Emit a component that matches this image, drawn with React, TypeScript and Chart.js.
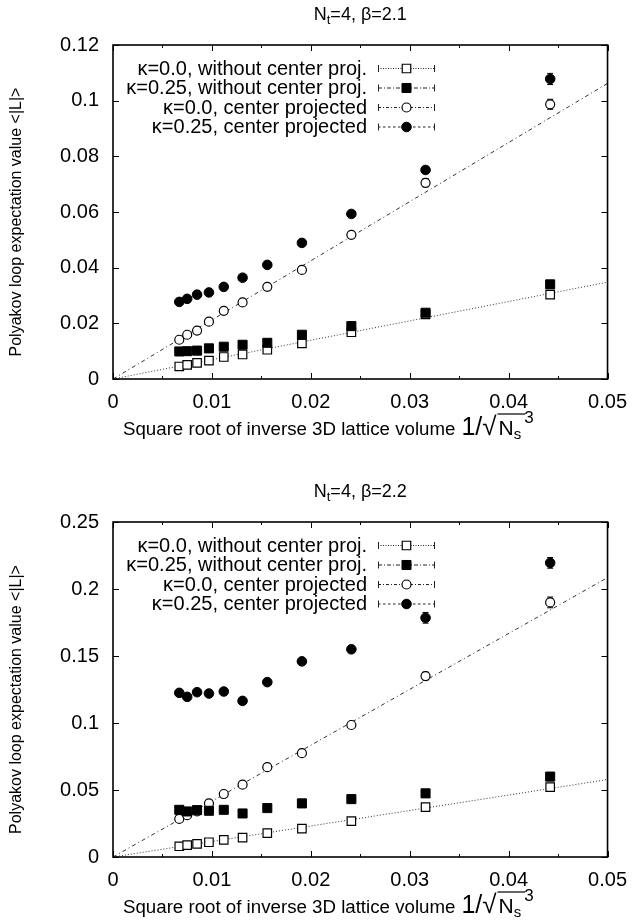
import React, { useEffect, useRef } from "react";
import { Chart, registerables } from "chart.js";

Chart.register(...registerables);

const FONT = "'Liberation Sans', Arial, Helvetica, sans-serif";

// x positions: 1/sqrt(Ns^3) for Ns = 28,26,24,22,20,18,16,14,12,10,8
const xValues = [0.0067, 0.0075, 0.0085, 0.0097, 0.0112, 0.0131, 0.0156, 0.0191, 0.0241, 0.0316, 0.0442];

const seriesLabels = [
  "κ=0.0, without center proj.",
  "κ=0.25, without center proj.",
  "κ=0.0, center projected",
  "κ=0.25, center projected",
];

const xAxisLabel = "Square root of inverse 3D lattice volume";
const yAxisLabel = "Polyakov loop expectation value <|L|>";

// ---- Panel 1: Nt=4, beta=2.1 ----
const b21_k00_noProj = [0.0045, 0.0051, 0.0058, 0.0066, 0.0079, 0.0088, 0.0105, 0.0128, 0.0168, 0.0232, 0.0303];
const b21_k025_noProj = [0.0099, 0.0100, 0.0102, 0.0110, 0.0116, 0.0123, 0.0130, 0.0159, 0.0190, 0.0238, 0.0340];
const b21_k00_proj = [0.0141, 0.0159, 0.0174, 0.0206, 0.0245, 0.0275, 0.0331, 0.0392, 0.0518, 0.0705, 0.0987];
const b21_k025_proj = [0.0277, 0.0288, 0.0303, 0.0311, 0.0331, 0.0364, 0.0410, 0.0489, 0.0593, 0.0751, 0.1078];
const b21_err_k00_noProj = [0.0003, 0.0003, 0.0003, 0.0003, 0.0003, 0.0003, 0.0003, 0.0003, 0.0004, 0.0005, 0.0006];
const b21_err_k025_noProj = [0.0003, 0.0003, 0.0003, 0.0003, 0.0003, 0.0003, 0.0003, 0.0004, 0.0005, 0.0006, 0.0008];
const b21_err_k00_proj = [0.0004, 0.0004, 0.0004, 0.0004, 0.0005, 0.0005, 0.0006, 0.0007, 0.0008, 0.0015, 0.0018];
const b21_err_k025_proj = [0.0004, 0.0004, 0.0004, 0.0004, 0.0005, 0.0005, 0.0006, 0.0007, 0.0008, 0.0012, 0.0020];
const fitX = [0, 0.05];
const b21_fit_noProj = [0, 0.0348];
const b21_fit_proj = [0, 0.1062];

// ---- Panel 2: Nt=4, beta=2.2 ----
const b22_k00_noProj = [0.0080, 0.0088, 0.0098, 0.0110, 0.0128, 0.0145, 0.0178, 0.0212, 0.0268, 0.0372, 0.0522];
const b22_k025_noProj = [0.0352, 0.0340, 0.0350, 0.0345, 0.0352, 0.0325, 0.0365, 0.0400, 0.0432, 0.0475, 0.0600];
const b22_k00_proj = [0.0284, 0.0312, 0.0340, 0.0400, 0.0470, 0.0540, 0.0670, 0.0775, 0.0985, 0.1350, 0.1900];
const b22_k025_proj = [0.1225, 0.1195, 0.1230, 0.1220, 0.1235, 0.1165, 0.1305, 0.1460, 0.1550, 0.1785, 0.2195];
const b22_err_k00_noProj = [0.0006, 0.0006, 0.0006, 0.0006, 0.0006, 0.0006, 0.0007, 0.0008, 0.0009, 0.0012, 0.0015];
const b22_err_k025_noProj = [0.0008, 0.0008, 0.0008, 0.0008, 0.0008, 0.0008, 0.0009, 0.0010, 0.0012, 0.0015, 0.0020];
const b22_err_k00_proj = [0.0008, 0.0008, 0.0008, 0.0009, 0.0010, 0.0010, 0.0012, 0.0014, 0.0020, 0.0030, 0.0040];
const b22_err_k025_proj = [0.0010, 0.0010, 0.0010, 0.0010, 0.0012, 0.0012, 0.0015, 0.0018, 0.0025, 0.0040, 0.0040];
const b22_fit_noProj = [0, 0.0578];
const b22_fit_proj = [0, 0.2085];

const xMax = 0.05;
const xStep = 0.01;

type Panel = {
  title: string;
  yMax: number;
  yStep: number;
  padTop: number;
  xAxisHeight: number;
  values: number[][];
  errors: number[][];
  fitNoProj: number[];
  fitProj: number[];
};

const panels: Panel[] = [
  {
    title: "2.1",
    yMax: 0.12,
    yStep: 0.02,
    padTop: 45,
    xAxisHeight: 82,
    values: [b21_k00_noProj, b21_k025_noProj, b21_k00_proj, b21_k025_proj],
    errors: [b21_err_k00_noProj, b21_err_k025_noProj, b21_err_k00_proj, b21_err_k025_proj],
    fitNoProj: b21_fit_noProj,
    fitProj: b21_fit_proj,
  },
  {
    title: "2.2",
    yMax: 0.25,
    yStep: 0.05,
    padTop: 61,
    xAxisHeight: 65,
    values: [b22_k00_noProj, b22_k025_noProj, b22_k00_proj, b22_k025_proj],
    errors: [b22_err_k00_noProj, b22_err_k025_noProj, b22_err_k00_proj, b22_err_k025_proj],
    fitNoProj: b22_fit_noProj,
    fitProj: b22_fit_proj,
  },
];

const markerStyles = [
  { pointStyle: "rect", pointRadius: 6, bg: "#ffffff", borderWidth: 1.2, order: 4 },
  { pointStyle: "rect", pointRadius: 6.4, bg: "#000000", borderWidth: 1, order: 3 },
  { pointStyle: "circle", pointRadius: 4.5, bg: "#ffffff", borderWidth: 1.2, order: 5 },
  { pointStyle: "circle", pointRadius: 4.8, bg: "#000000", borderWidth: 1, order: 1 },
];
const legendDashes = [[1, 1.5], [4, 2, 1, 2], [3, 2, 1, 2], [2.5, 2.5]];

type Part = { text: string; size: number; dy?: number; w?: number; gap?: number };

function drawRich(ctx: CanvasRenderingContext2D, parts: Part[], x: number, y: number, center: boolean) {
  let total = 0;
  parts.forEach((p) => {
    ctx.font = `${p.size}px ${FONT}`;
    p.w = ctx.measureText(p.text).width;
    total += p.w + (p.gap || 0);
  });
  let cx = center ? x - total / 2 : x;
  const positions: number[] = [];
  parts.forEach((p) => {
    ctx.font = `${p.size}px ${FONT}`;
    cx += p.gap || 0;
    positions.push(cx);
    ctx.fillText(p.text, cx, y + (p.dy || 0));
    cx += p.w || 0;
  });
  positions.push(cx);
  return positions;
}

const textPlugin = {
  id: "gpText",
  afterDraw(chart: any, _args: any, opts: any) {
    const { ctx, chartArea: a } = chart;
    ctx.save();
    ctx.fillStyle = "#000";
    ctx.textBaseline = "alphabetic";
    ctx.textAlign = "left";
    // panel title
    drawRich(
      ctx,
      [
        { text: "N", size: 18 },
        { text: "t", size: 13, dy: 4 },
        { text: "=4, β=" + opts.beta, size: 18 },
      ],
      (a.left + a.right) / 2,
      a.top - 25,
      true
    );
    // x axis title
    const base = a.bottom + 56;
    const parts: Part[] = [
      { text: xAxisLabel, size: 18.7 },
      { text: "1/", size: 25, gap: 6 },
      { text: "√", size: 26 },
      { text: "N", size: 21, gap: 2 },
      { text: "s", size: 15, dy: 4 },
      { text: "3", size: 17, dy: -12, gap: 3 },
    ];
    const pos = drawRich(ctx, parts, a.left + 10, base, false);
    ctx.strokeStyle = "#000";
    ctx.lineWidth = 1.2;
    ctx.beginPath();
    const ly = base - 21;
    ctx.moveTo(pos[3] - 1, ly);
    ctx.lineTo(pos[5] + 1, ly);
    ctx.stroke();
    // y axis title (rotated)
    ctx.save();
    ctx.translate(17, (a.top + a.bottom) / 2 + 10);
    ctx.rotate(-Math.PI / 2);
    ctx.font = `16px ${FONT}`;
    ctx.textAlign = "center";
    ctx.textBaseline = "middle";
    ctx.fillText(yAxisLabel, 0, 0);
    ctx.restore();
    ctx.restore();
  },
};

const frameTicks = {
  id: "frameTicks",
  afterDatasetsDraw(chart: any) {
    const { ctx, chartArea: a, scales } = chart;
    const xs = scales.x;
    const ys = scales.y;
    ctx.save();
    ctx.strokeStyle = "#000";
    ctx.lineWidth = 1;
    ctx.setLineDash([]);
    ctx.beginPath();
    const major = 6;
    const minor = 3;
    xs.ticks.forEach((t: any, i: number) => {
      const px = Math.round(xs.getPixelForValue(t.value)) + 0.5;
      ctx.moveTo(px, a.bottom);
      ctx.lineTo(px, a.bottom - major);
      ctx.moveTo(px, a.top);
      ctx.lineTo(px, a.top + major);
      if (i < xs.ticks.length - 1) {
        const mv = (t.value + xs.ticks[i + 1].value) / 2;
        const pm = Math.round(xs.getPixelForValue(mv)) + 0.5;
        ctx.moveTo(pm, a.bottom);
        ctx.lineTo(pm, a.bottom - minor);
        ctx.moveTo(pm, a.top);
        ctx.lineTo(pm, a.top + minor);
      }
    });
    ys.ticks.forEach((t: any) => {
      const py = Math.round(ys.getPixelForValue(t.value)) + 0.5;
      ctx.moveTo(a.left, py);
      ctx.lineTo(a.left + major, py);
      ctx.moveTo(a.right, py);
      ctx.lineTo(a.right - major, py);
    });
    ctx.stroke();
    ctx.lineWidth = 1.6;
    ctx.strokeRect(a.left, a.top, a.right - a.left, a.bottom - a.top);
    ctx.restore();
  },
};

const errorBars = {
  id: "errorBars",
  beforeDatasetsDraw(chart: any) {
    const { ctx, scales } = chart;
    const xs = scales.x;
    const ys = scales.y;
    ctx.save();
    ctx.strokeStyle = "#000";
    ctx.lineWidth = 1;
    ctx.setLineDash([]);
    chart.data.datasets.forEach((ds: any) => {
      if (!ds.errors) return;
      ds.data.forEach((pt: any, i: number) => {
        const e = ds.errors[i];
        if (!e) return;
        const x = xs.getPixelForValue(pt.x);
        const y1 = ys.getPixelForValue(pt.y - e);
        const y2 = ys.getPixelForValue(pt.y + e);
        ctx.beginPath();
        ctx.moveTo(x, y1);
        ctx.lineTo(x, y2);
        ctx.moveTo(x - 3, y1);
        ctx.lineTo(x + 3, y1);
        ctx.moveTo(x - 3, y2);
        ctx.lineTo(x + 3, y2);
        ctx.stroke();
      });
    });
    ctx.restore();
  },
};

const gpLegend = {
  id: "gpLegend",
  afterDraw(chart: any) {
    const { ctx, chartArea: a } = chart;
    ctx.save();
    ctx.font = `20px ${FONT}`;
    ctx.fillStyle = "#000";
    ctx.textAlign = "right";
    ctx.textBaseline = "middle";
    const textRight = a.left + 254;
    const s0 = a.left + 265;
    const s1 = a.left + 322;
    const sm = (s0 + s1) / 2;
    seriesLabels.forEach((label, i) => {
      const y = a.top + 23 + 19.5 * i;
      ctx.fillText(label, textRight, y + 1);
      ctx.strokeStyle = "#222";
      ctx.lineWidth = 1;
      ctx.setLineDash(legendDashes[i]);
      ctx.beginPath();
      ctx.moveTo(s0, y + 0.5);
      ctx.lineTo(s1, y + 0.5);
      ctx.stroke();
      ctx.setLineDash([]);
      ctx.beginPath();
      ctx.moveTo(s0 + 0.5, y - 3);
      ctx.lineTo(s0 + 0.5, y + 4);
      ctx.moveTo(s1 - 0.5, y - 3);
      ctx.lineTo(s1 - 0.5, y + 4);
      ctx.stroke();
      const m = markerStyles[i];
      ctx.fillStyle = m.bg;
      ctx.strokeStyle = "#000";
      ctx.lineWidth = m.borderWidth;
      ctx.beginPath();
      if (m.pointStyle === "rect") {
        const h = m.pointRadius * Math.SQRT1_2;
        ctx.rect(sm - h, y + 0.5 - h, 2 * h, 2 * h);
      } else {
        ctx.arc(sm, y + 0.5, m.pointRadius, 0, Math.PI * 2);
      }
      ctx.fill();
      ctx.stroke();
      ctx.fillStyle = "#000";
    });
    ctx.restore();
  },
};

function fmt(v: number) {
  return String(Number(v.toFixed(4)));
}

function makeChart(canvas: HTMLCanvasElement, p: Panel) {
  const datasets: any[] = [];
  datasets.push({
    label: "fit no proj",
    data: fitX.map((x, i) => ({ x, y: p.fitNoProj[i] })),
    showLine: true,
    pointRadius: 0,
    borderColor: "#333",
    borderWidth: 1,
    borderDash: [1, 2],
    order: 10,
  });
  datasets.push({
    label: "fit proj",
    data: fitX.map((x, i) => ({ x, y: p.fitProj[i] })),
    showLine: true,
    pointRadius: 0,
    borderColor: "#333",
    borderWidth: 1,
    borderDash: [4, 3, 1, 3],
    order: 10,
  });
  p.values.forEach((vals, si) => {
    const m = markerStyles[si];
    datasets.push({
      label: seriesLabels[si],
      data: xValues.map((x, i) => ({ x, y: vals[i] })),
      errors: p.errors[si],
      showLine: false,
      pointStyle: m.pointStyle,
      pointRadius: m.pointRadius,
      pointHoverRadius: m.pointRadius,
      pointBackgroundColor: m.bg,
      pointBorderColor: "#000",
      pointBorderWidth: m.borderWidth,
      backgroundColor: m.bg,
      borderColor: "#000",
      order: m.order,
    });
  });

  return new Chart(canvas, {
    type: "scatter",
    data: { datasets },
    options: {
      animation: false,
      responsive: false,
      devicePixelRatio: 1,
      events: [],
      layout: { padding: { top: p.padTop, right: 25, left: 0, bottom: 0 } },
      plugins: {
        legend: { display: false },
        tooltip: { enabled: false },
        title: { display: false },
        gpText: { beta: p.title },
      } as any,
      scales: {
        x: {
          type: "linear",
          min: 0,
          max: xMax,
          grid: { display: false, drawTicks: false },
          border: { display: false },
          ticks: {
            stepSize: xStep,
            padding: 11,
            color: "#000",
            font: { family: FONT, size: 20 },
            callback: (v: any) => fmt(Number(v)),
            maxRotation: 0,
          },
          afterFit: (s: any) => {
            s.height = p.xAxisHeight;
          },
        },
        y: {
          type: "linear",
          min: 0,
          max: p.yMax,
          grid: { display: false, drawTicks: false },
          border: { display: false },
          ticks: {
            stepSize: p.yStep,
            padding: 14,
            color: "#000",
            font: { family: FONT, size: 20 },
            callback: (v: any) => fmt(Number(v)),
          },
          afterFit: (s: any) => {
            s.width = 113;
          },
        },
      },
    } as any,
    plugins: [errorBars, frameTicks, gpLegend, textPlugin],
  });
}

export default function App() {
  const ref1 = useRef<HTMLCanvasElement>(null);
  const ref2 = useRef<HTMLCanvasElement>(null);
  useEffect(() => {
    const c1 = makeChart(ref1.current as HTMLCanvasElement, panels[0]);
    const c2 = makeChart(ref2.current as HTMLCanvasElement, panels[1]);
    return () => {
      c1.destroy();
      c2.destroy();
    };
  }, []);
  return (
    <div style={{ position: "absolute", left: 0, top: 0, width: 638, height: 922, background: "#fff" }}>
      <canvas ref={ref1} width={638} height={461} style={{ display: "block", width: 638, height: 461 }} />
      <canvas ref={ref2} width={638} height={461} style={{ display: "block", width: 638, height: 461 }} />
    </div>
  );
}
